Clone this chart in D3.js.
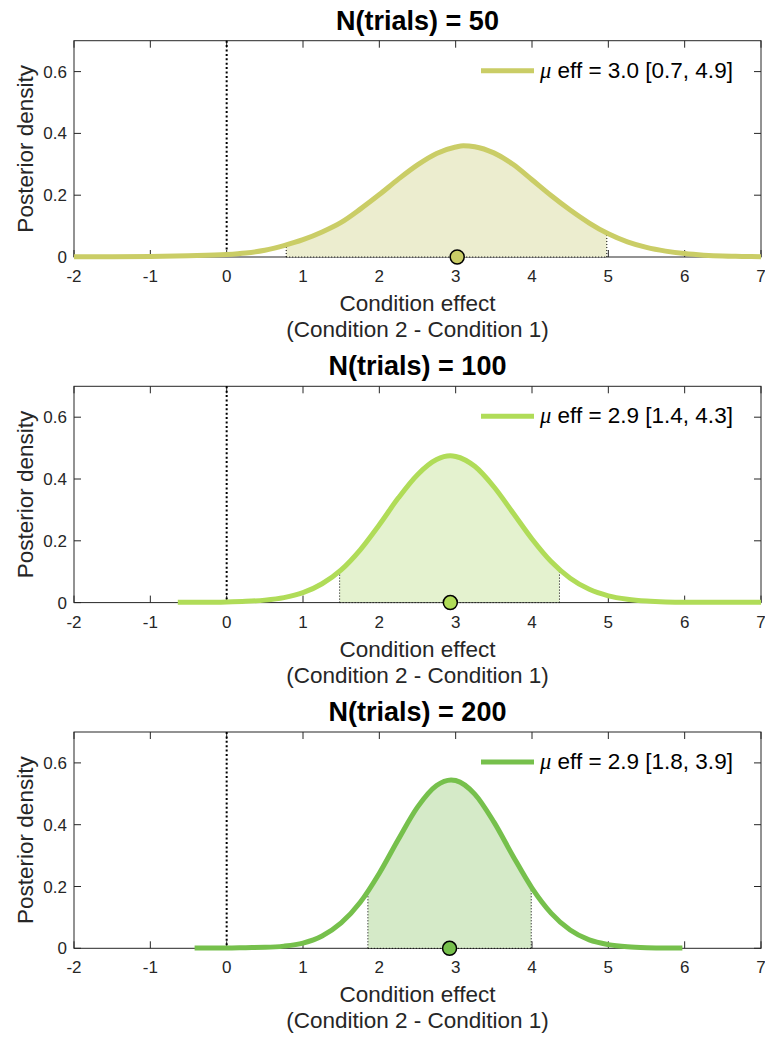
<!DOCTYPE html>
<html>
<head>
<meta charset="utf-8">
<script src="https://cdn.jsdelivr.net/npm/d3@7"></script>
<style>
  html, body { margin: 0; padding: 0; background: #fff; }
  svg { display: block; font-family: "Liberation Sans", Arial, Helvetica, sans-serif; }
</style>
</head>
<body>
<svg id="chart" width="765" height="1038"></svg>
<script>
// ---------- data ----------
const titles = ["N(trials) = 50", "N(trials) = 100", "N(trials) = 200"];
const legendValues = ["eff = 3.0 [0.7, 4.9]", "eff = 2.9 [1.4, 4.3]", "eff = 2.9 [1.8, 3.9]"];
const xTicks = [-2, -1, 0, 1, 2, 3, 4, 5, 6, 7];
const yTicks = [0, 0.2, 0.4, 0.6];
const yTickLabels = ["0", "0.2", "0.4", "0.6"];

const curveX50 = [-2, -1.5, -1, -0.5, 0, 0.25, 0.5, 0.75, 1, 1.25, 1.5, 1.75, 2, 2.25, 2.5, 2.75, 3, 3.1, 3.25, 3.5, 3.75, 4, 4.25, 4.5, 4.75, 5, 5.25, 5.5, 5.75, 6, 6.25, 6.5, 6.75, 7];
const curveY50 = [0.001, 0.001, 0.002, 0.004, 0.008, 0.013, 0.022, 0.037, 0.056, 0.081, 0.112, 0.155, 0.202, 0.252, 0.298, 0.335, 0.356, 0.360, 0.357, 0.337, 0.300, 0.250, 0.199, 0.152, 0.110, 0.075, 0.049, 0.031, 0.019, 0.011, 0.006, 0.003, 0.002, 0.001];

const curveX100 = [-0.64, -0.25, 0, 0.25, 0.5, 0.75, 1, 1.25, 1.5, 1.75, 2, 2.25, 2.5, 2.75, 2.93, 3, 3.25, 3.5, 3.75, 4, 4.25, 4.5, 4.75, 5, 5.25, 5.5, 5.75, 6, 6.5, 7];
const curveY100 = [0.001, 0.001, 0.002, 0.004, 0.008, 0.016, 0.032, 0.061, 0.106, 0.171, 0.252, 0.339, 0.414, 0.463, 0.475, 0.473, 0.441, 0.375, 0.291, 0.206, 0.133, 0.079, 0.043, 0.022, 0.011, 0.005, 0.002, 0.001, 0.001, 0.001];

const curveX200 = [-0.42, 0, 0.25, 0.5, 0.75, 1, 1.25, 1.5, 1.75, 2, 2.25, 2.5, 2.75, 2.94, 3, 3.25, 3.5, 3.75, 4, 4.25, 4.5, 4.75, 5, 5.25, 5.5, 5.75, 5.97];
const curveY200 = [0.001, 0.001, 0.002, 0.003, 0.007, 0.017, 0.040, 0.082, 0.149, 0.243, 0.353, 0.457, 0.527, 0.545, 0.543, 0.499, 0.409, 0.299, 0.195, 0.114, 0.059, 0.027, 0.012, 0.005, 0.002, 0.001, 0.001];

const means = [3.02, 2.93, 2.92];
const ciLow = [0.78, 1.48, 1.85];
const ciHigh = [4.98, 4.36, 3.99];

const lineColors = ["#cacd66", "#b0dc58", "#76c04c"];
const fillColors = ["#ecedcf", "#e4f2cf", "#d5eac8"];

// ---------- layout ----------
const panelTops = [40.7, 386.3, 732];
const panelH = 216.3;
const left = 74, right = 761;

const curvesX = [curveX50, curveX100, curveX200];
const curvesY = [curveY50, curveY100, curveY200];

const svg = d3.select("#chart");
const x = d3.scaleLinear().domain([-2, 7]).range([left, right]);
const axisColor = "#262626";

for (let p = 0; p < 3; p++) {
  const top = panelTops[p];
  const bottom = top + panelH;
  const y = d3.scaleLinear().domain([0, 0.7]).range([bottom, top]);
  const data = curvesX[p].map((v, i) => ({ x: v, y: curvesY[p][i] }));
  const g = svg.append("g");

  const clipId = "ci" + p;
  g.append("clipPath").attr("id", clipId)
    .append("rect")
    .attr("x", x(ciLow[p])).attr("y", top)
    .attr("width", x(ciHigh[p]) - x(ciLow[p])).attr("height", panelH);

  const area = d3.area().x(d => x(d.x)).y0(y(0)).y1(d => y(d.y)).curve(d3.curveMonotoneX);
  const areaClipId = "area" + p;
  g.append("clipPath").attr("id", areaClipId)
    .append("path").attr("d", area(data));

  // axis box
  g.append("rect")
    .attr("x", left).attr("y", top).attr("width", right - left).attr("height", panelH)
    .attr("fill", "none").attr("stroke", axisColor).attr("stroke-width", 1);

  // inward ticks on all four sides
  const tl = 7;
  xTicks.forEach(t => {
    g.append("line").attr("x1", x(t)).attr("x2", x(t)).attr("y1", bottom).attr("y2", bottom - tl)
      .attr("stroke", axisColor).attr("stroke-width", 1);
    g.append("line").attr("x1", x(t)).attr("x2", x(t)).attr("y1", top).attr("y2", top + tl)
      .attr("stroke", axisColor).attr("stroke-width", 1);
  });
  yTicks.forEach(t => {
    g.append("line").attr("x1", left).attr("x2", left + tl).attr("y1", y(t)).attr("y2", y(t))
      .attr("stroke", axisColor).attr("stroke-width", 1);
    g.append("line").attr("x1", right).attr("x2", right - tl).attr("y1", y(t)).attr("y2", y(t))
      .attr("stroke", axisColor).attr("stroke-width", 1);
  });

  // shaded credible interval
  g.append("path").attr("d", area(data))
    .attr("fill", fillColors[p]).attr("stroke", "none")
    .attr("clip-path", `url(#${clipId})`);

  // dotted edges of the band
  const edges = g.append("g").attr("clip-path", `url(#${areaClipId})`);
  [ciLow[p], ciHigh[p]].forEach(v => {
    edges.append("line").attr("x1", x(v)).attr("x2", x(v)).attr("y1", bottom).attr("y2", top)
      .attr("stroke", "#000").attr("stroke-width", 1).attr("stroke-dasharray", "1,2");
  });
  g.append("line").attr("x1", x(ciLow[p])).attr("x2", x(ciHigh[p])).attr("y1", bottom).attr("y2", bottom)
    .attr("stroke", "#000").attr("stroke-width", 1).attr("stroke-dasharray", "1,2");

  // zero line
  g.append("line").attr("x1", x(0)).attr("x2", x(0)).attr("y1", top).attr("y2", bottom)
    .attr("stroke", "#000").attr("stroke-width", 2).attr("stroke-dasharray", "2,2.4");

  // curve
  const line = d3.line().x(d => x(d.x)).y(d => y(d.y)).curve(d3.curveMonotoneX);
  g.append("path").attr("d", line(data))
    .attr("fill", "none").attr("stroke", lineColors[p]).attr("stroke-width", 5);

  // mean marker
  g.append("circle").attr("cx", x(means[p])).attr("cy", y(0)).attr("r", 7)
    .attr("fill", lineColors[p]).attr("stroke", "#000").attr("stroke-width", 1.5);

  // tick labels
  xTicks.forEach(t => {
    g.append("text").attr("x", x(t)).attr("y", bottom + 25)
      .attr("text-anchor", "middle").attr("font-size", 17).attr("fill", "#262626")
      .text(String(t));
  });
  yTicks.forEach((t, i) => {
    g.append("text").attr("x", left - 7).attr("y", y(t) + 6)
      .attr("text-anchor", "end").attr("font-size", 17).attr("fill", "#262626")
      .text(yTickLabels[i]);
  });

  // axis labels
  const cx = (left + right) / 2;
  g.append("text").attr("x", cx).attr("y", bottom + 54)
    .attr("text-anchor", "middle").attr("font-size", 22.5).attr("fill", "#262626")
    .text("Condition effect");
  g.append("text").attr("x", cx).attr("y", bottom + 80)
    .attr("text-anchor", "middle").attr("font-size", 22.5).attr("fill", "#262626")
    .text("(Condition 2 - Condition 1)");
  g.append("text")
    .attr("transform", `translate(33,${(top + bottom) / 2}) rotate(-90)`)
    .attr("text-anchor", "middle").attr("font-size", 22.5).attr("fill", "#262626")
    .text("Posterior density");

  // title
  g.append("text").attr("x", cx).attr("y", top - 11)
    .attr("text-anchor", "middle").attr("font-size", 27).attr("font-weight", "bold").attr("fill", "#000")
    .text(titles[p]);

  // legend
  g.append("line").attr("x1", 481).attr("x2", 534).attr("y1", top + 30).attr("y2", top + 30)
    .attr("stroke", lineColors[p]).attr("stroke-width", 5);
  const lt = g.append("text").attr("x", 540).attr("y", top + 37)
    .attr("font-size", 22.5).attr("fill", "#000");
  lt.append("tspan").attr("font-style", "italic").attr("font-family", "'Liberation Serif', 'Times New Roman', serif")
    .text("μ");
  lt.append("tspan").text(" " + legendValues[p]);
}
</script>
</body>
</html>
